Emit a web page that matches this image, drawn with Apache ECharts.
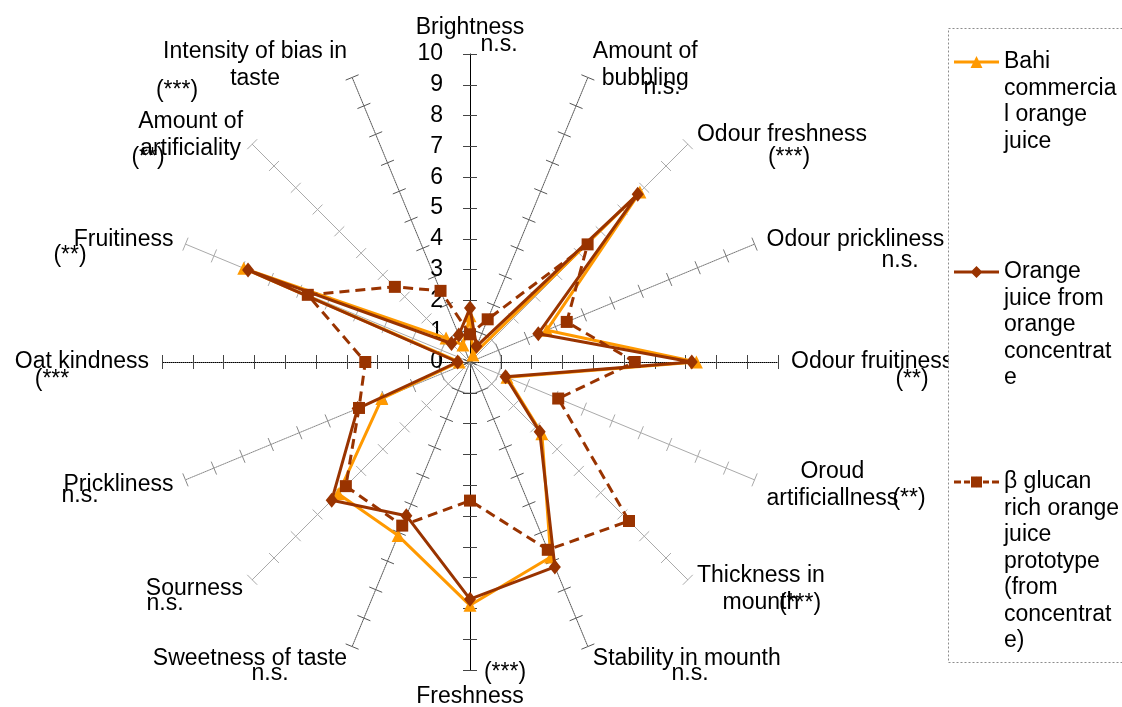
<!DOCTYPE html>
<html>
<head>
<meta charset="utf-8">
<script src="https://cdn.jsdelivr.net/npm/echarts@6/dist/echarts.min.js"></script>
<style>
  html, body { margin: 0; padding: 0; background: #ffffff; }
  #chart { width: 1122px; height: 707px; }
</style>
</head>
<body>
<div id="chart"></div>
<script>
// Sensory attributes, listed clockwise starting from the top spoke
const categories = [
  'Brightness', 'Amount of bubbling', 'Odour freshness', 'Odour prickliness',
  'Odour fruitiness', 'Oroud artificiallness', 'Thickness in mounth', 'Stability in mounth',
  'Freshness', 'Sweetness of taste', 'Sourness', 'Prickliness',
  'Oat kindness', 'Fruitiness', 'Amount of artificiality', 'Intensity of bias in taste'
];
// Significance of the difference between the juices for each attribute
const significance = [
  'n.s.', 'n.s.', '(***)', 'n.s.',
  '(**)', '(**)', '(***)', 'n.s.',
  '(***)', 'n.s.', 'n.s.', 'n.s.',
  '(***', '(**)', '(**)', '(***)'
];
const seriesNames = [
  'Bahi commercial orange juice',
  'Orange juice from orange concentrate',
  'β glucan rich orange juice prototype (from concentrate)'
];
const bahi = [1.5, 0.25, 7.8, 2.7, 7.35, 1.3, 3.3, 6.85, 7.9, 6.1, 6.05, 3.1, 0.35, 7.95, 1.1, 0.6];
const ojConc = [1.75, 0.55, 7.7, 2.4, 7.2, 1.25, 3.2, 7.2, 7.7, 5.4, 6.35, 3.95, 0.4, 7.8, 0.85, 0.95];
const betaGlucan = [0.9, 1.5, 5.4, 3.4, 5.35, 3.1, 7.3, 6.6, 4.5, 5.75, 5.7, 3.9, 3.4, 5.7, 3.45, 2.5];
const scaleMin = 0;
const scaleMax = 10;

// Wrapped forms of the longer axis names and legend entries
const nameLines = {
  'Amount of bubbling': ['Amount of', 'bubbling'],
  'Oroud artificiallness': ['Oroud', 'artificiallness'],
  'Thickness in mounth': ['Thickness in', 'mounth'],
  'Amount of artificiality': ['Amount of', 'artificiality'],
  'Intensity of bias in taste': ['Intensity of bias in', 'taste']
};
const legendLines = [
  ['Bahi', 'commercia', 'l orange', 'juice'],
  ['Orange', 'juice from', 'orange', 'concentrat', 'e'],
  ['β glucan', 'rich orange', 'juice', 'prototype', '(from', 'concentrat', 'e)']
];

// ---- layout and style ----
const FONT = '"Liberation Sans", Arial, sans-serif';
const FS = 23;
const CX = 470, CY = 362, R = 308;
const colors = ['#FF9900', '#993300', '#993300'];

// spoke styles, one per attribute (clockwise)
const spokeStyles = [
  { color: '#000', type: 'solid' },  { color: '#555', type: 'dotted' },
  { color: '#aaa', type: 'solid' },  { color: '#777', type: 'dotted' },
  { color: '#000', type: 'dotted' }, { color: '#aaa', type: 'solid' },
  { color: '#aaa', type: 'solid' },  { color: '#555', type: 'dotted' },
  { color: '#000', type: 'solid' },  { color: '#555', type: 'dotted' },
  { color: '#aaa', type: 'solid' },  { color: '#888', type: 'dotted' },
  { color: '#000', type: 'dotted' }, { color: '#aaa', type: 'solid' },
  { color: '#aaa', type: 'solid' },  { color: '#555', type: 'dotted' }
];
// centre points of the significance notes
const sigPos = [
  [499, 45], [662, 88], [789, 158], [900, 261],
  [912, 380], [909, 499], [800, 604], [690, 674],
  [505, 673], [270, 674], [165, 604], [80, 496],
  [52, 380], [70, 256], [148, 158], [177, 91]
];
// legend entries: vertical centre of each symbol, and line+marker icons
const legendY = [62, 272, 482];
const LEGEND_LH = 26.5;
const legendIcons = [
  'path://M0,4.5L45,4.5L45,7.5L0,7.5Z M22.5,0L28.5,12L16.5,12Z',
  'path://M0,4.5L45,4.5L45,7.5L0,7.5Z M22.5,0L28.5,6L22.5,12L16.5,6Z',
  'path://M0,4.5L7,4.5L7,7.5L0,7.5Z M10,4.5L16,4.5L16,7.5L10,7.5Z M17,0.5L28,0.5L28,11.5L17,11.5Z ' +
    'M29,4.5L35,4.5L35,7.5L29,7.5Z M38,4.5L45,4.5L45,7.5L38,7.5Z M22.5,0L22.6,0L22.6,12L22.5,12Z'
];

// ECharts lays radar indicators out counter-clockwise: keep the first one on top
// and reverse the rest so the attributes run clockwise.
const order = [0].concat(categories.map((_, i) => i).slice(1).reverse());
const reorder = arr => order.map(i => arr[i]);

function indicators(withLabel) {
  return order.map(i => {
    const s = spokeStyles[i];
    const ind = {
      name: categories[i], min: scaleMin, max: scaleMax,
      axisLine: { lineStyle: { color: s.color, type: s.type, width: 1 } },
      axisTick: { lineStyle: { color: s.color === '#000' ? '#444' : s.color, width: 1 } }
    };
    if (withLabel && i === 0) {
      ind.axisLabel = { show: true, margin: 27, fontSize: FS, color: '#000', fontFamily: FONT };
    }
    return ind;
  });
}

const ringColors = [];
for (let v = scaleMin; v <= scaleMax; v++) ringColors.push(v === 1 ? '#c4c4c4' : 'rgba(0,0,0,0)');

const radarCommon = {
  center: [CX, CY], radius: R, startAngle: 90, splitNumber: scaleMax - scaleMin,
  shape: 'circle', splitArea: { show: false }
};

const seriesData = [bahi, ojConc, betaGlucan];
const symbols = ['triangle', 'diamond', 'rect'];
const symbolSizes = [13, [12, 15], 12];
const lineTypes = ['solid', 'solid', [10, 6]];

const legends = seriesNames.map((nm, k) => {
  const n = legendLines[k].length;
  return {
    show: true, orient: 'vertical', left: 954,
    top: legendY[k] - (2 * n - 1) * LEGEND_LH / 2,
    padding: 0, itemWidth: 45, itemHeight: 12, z: 20,
    selectedMode: false,
    icon: legendIcons[k],
    data: [nm],
    formatter: () => '\n'.repeat(n - 1) + legendLines[k].join('\n'),
    textStyle: { fontSize: FS, lineHeight: LEGEND_LH, color: '#000', fontFamily: FONT }
  };
});

const option = {
  backgroundColor: '#ffffff',
  animation: false,
  textStyle: { fontFamily: FONT },
  legend: legends,
  radar: [
    Object.assign({}, radarCommon, {
      indicator: indicators(true),
      axisNameGap: 13,
      axisName: {
        color: '#000', fontSize: FS, fontFamily: FONT, lineHeight: 27,
        formatter: name => (nameLines[name] || [name]).map(l => '{c|' + l + '}').join('\n'),
        rich: { c: { align: 'center', fontSize: FS, lineHeight: 27, color: '#000', fontFamily: FONT } }
      },
      axisLine: { show: true },
      axisTick: { show: true, length: 7 },
      axisLabel: { show: false },
      splitLine: { show: true, lineStyle: { color: ringColors, width: 1 } }
    }),
    // second copy of the spokes carries the tick half on the other side
    Object.assign({}, radarCommon, {
      indicator: indicators(false),
      axisName: { show: false },
      axisLine: { show: false },
      axisTick: { show: true, length: -7 },
      axisLabel: { show: false },
      splitLine: { show: false }
    })
  ],
  series: seriesData.map((vals, k) => ({
    name: seriesNames[k],
    type: 'radar',
    radarIndex: 0,
    symbol: symbols[k],
    symbolSize: symbolSizes[k],
    itemStyle: { color: colors[k] },
    lineStyle: { color: colors[k], width: 3, type: lineTypes[k] },
    z: 2 + k,
    data: [{ name: seriesNames[k], value: reorder(vals) }]
  })),
  graphic: [
    {
      type: 'rect', z: 10,
      shape: { x: 948.5, y: 28.5, width: 200, height: 634 },
      style: { fill: '#fff', stroke: '#8c8c8c', lineWidth: 1, lineDash: [2, 2] }
    }
  ].concat(significance.map((s, i) => ({
    type: 'text', z: 5, x: sigPos[i][0], y: sigPos[i][1],
    style: {
      text: s, fill: '#000', font: FS + 'px ' + FONT,
      align: 'center', verticalAlign: 'middle', textAlign: 'center', textVerticalAlign: 'middle'
    }
  })))
};

const chart = echarts.init(document.getElementById('chart'), null, { renderer: 'canvas' });
chart.setOption(option);
</script>
</body>
</html>
